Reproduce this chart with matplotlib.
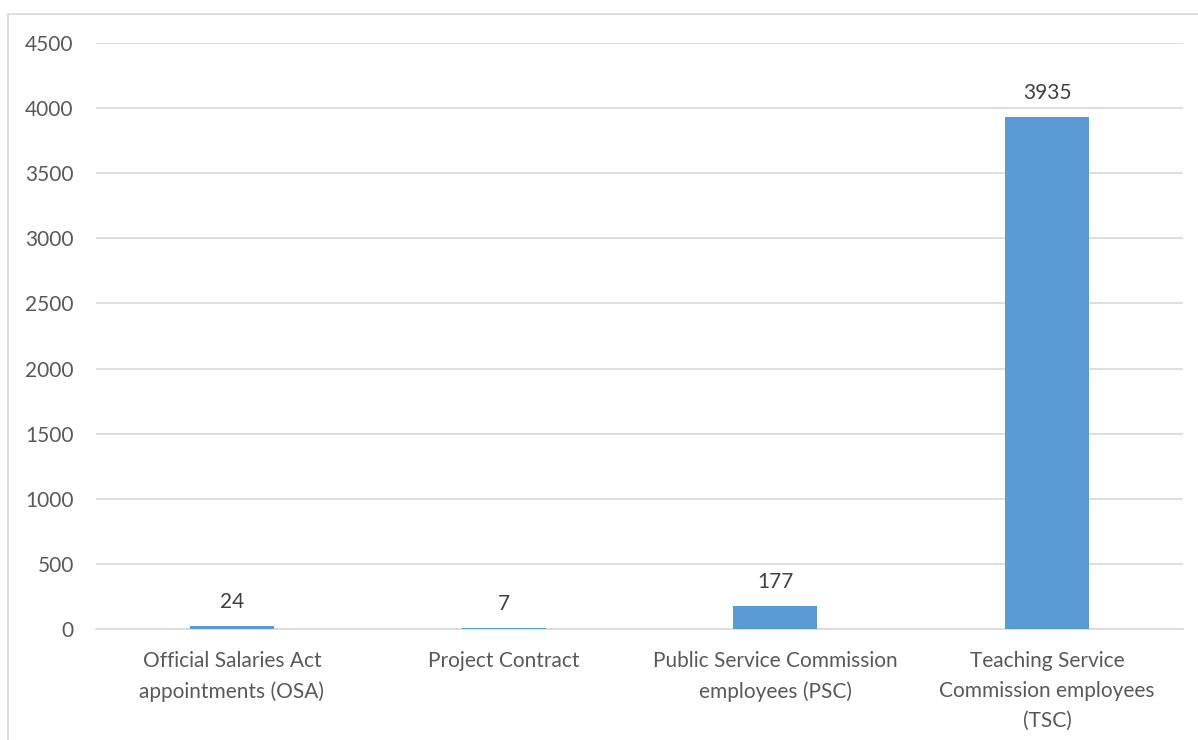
import matplotlib
matplotlib.use('Agg')
import matplotlib.pyplot as plt
from matplotlib.patches import Rectangle

# Staff numbers by appointment type
categories = ['Official Salaries Act\nappointments (OSA)',
              'Project Contract',
              'Public Service Commission\nemployees (PSC)',
              'Teaching Service\nCommission employees\n(TSC)']
counts = [24, 7, 177, 3935]
yticks = [0, 500, 1000, 1500, 2000, 2500, 3000, 3500, 4000, 4500]

text_grey = '#595959'
grid_grey = '#D9D9D9'
bar_blue = '#5B9BD5'

plt.rcParams['font.family'] = ['Lato', 'DejaVu Sans']

fig = plt.figure(figsize=(11.98, 7.40), dpi=100, facecolor='white')

# chart border (cut off at right and bottom, as in the source)
fig.patches.append(Rectangle((8/1198, -0.5), 2.0, 1.5 - 14/740,
                             transform=fig.transFigure, fill=False,
                             edgecolor=grid_grey, linewidth=1.2))

ax = fig.add_axes([96/1198, 1 - 629/740, (1183-96)/1198, (629-43)/740])
x = range(len(counts))
bars = ax.bar(x, counts, width=0.31, color=bar_blue, zorder=3)

ax.set_xlim(-0.5, len(counts) - 0.5)
ax.set_ylim(0, 4500)
ax.set_yticks(yticks)
ax.set_xticks(list(x))
ax.set_xticklabels(categories, linespacing=1.62)
ax.grid(axis='y', color=grid_grey, linewidth=1.2, zorder=0)
for s in ['top', 'right', 'left']:
    ax.spines[s].set_visible(False)
ax.spines['bottom'].set_color(grid_grey)
ax.spines['bottom'].set_linewidth(1.2)
ax.tick_params(axis='both', length=0, colors=text_grey, labelsize=15)
ax.tick_params(axis='y', pad=16)
ax.tick_params(axis='x', pad=16)

for rect, v in zip(bars, counts):
    ax.annotate(str(v), (rect.get_x() + rect.get_width()/2, v),
                xytext=(0, 10), textcoords='offset points',
                ha='center', va='bottom', fontsize=15, color='#404040')

fig.savefig('out.png', dpi=100, facecolor='white')
